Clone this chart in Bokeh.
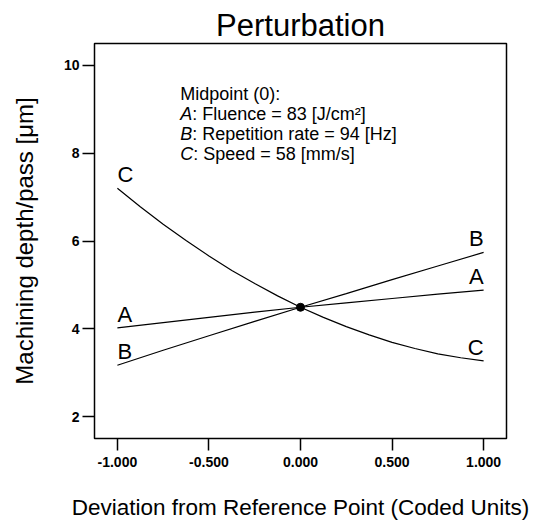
from bokeh.plotting import figure
from bokeh.models import FixedTicker, NumeralTickFormatter, Label, ColumnDataSource, Range1d
from bokeh.embed import file_html
from bokeh.resources import INLINE
from bokeh.core.properties import value

# ---- data ----
deviation = [-1.0, -0.75, -0.5, -0.25, 0.0, 0.25, 0.5, 0.75, 1.0]
factor_a = [4.02, 4.14, 4.26, 4.38, 4.49, 4.59, 4.69, 4.79, 4.88]
factor_b = [3.17, 3.51, 3.84, 4.17, 4.49, 4.80, 5.12, 5.43, 5.74]
deviation_c = [-1.0, -0.875, -0.75, -0.625, -0.5, -0.375, -0.25, -0.125, 0.0,
               0.125, 0.25, 0.375, 0.5, 0.625, 0.75, 0.875, 1.0]
factor_c = [7.20, 6.78, 6.38, 6.01, 5.66, 5.33, 5.03, 4.75, 4.49,
            4.26, 4.05, 3.86, 3.69, 3.55, 3.43, 3.34, 3.27]
series_names = ["A", "B", "C"]
midpoint_x = [0.0]
midpoint_y = [4.49]
x_ticks = [-1.0, -0.5, 0.0, 0.5, 1.0]
y_ticks = [2, 4, 6, 8, 10]
note_head = "Midpoint (0):"
note_letters = ["A", "B", "C"]
note_texts = [": Fluence = 83 [J/cm\u00b2]", ": Repetition rate = 94 [Hz]", ": Speed = 58 [mm/s]"]

FONT = "Liberation Sans"

p = figure(width=539, height=524, output_backend="svg", toolbar_location=None,
           x_range=Range1d(-1.125, 1.125), y_range=Range1d(1.5, 10.5),
           min_border_left=94, min_border_right=33, min_border_top=43, min_border_bottom=86)

p.title.text = "Perturbation"
p.title.align = "center"
p.title.text_font = FONT
p.title.text_font_size = "31px"
p.title.text_font_style = "normal"
p.title.text_color = "black"
p.title.standoff = 2

p.grid.visible = False
p.outline_line_color = "black"
p.outline_line_width = 1.5
p.background_fill_color = "white"
p.border_fill_color = "white"

for ax in (p.xaxis[0], p.yaxis[0]):
    ax.axis_line_color = None
    ax.major_tick_out = 12
    ax.major_tick_in = 0
    ax.major_tick_line_color = "black"
    ax.major_tick_line_width = 1.5
    ax.minor_tick_line_color = None
    ax.major_label_text_font = FONT
    ax.major_label_text_font_style = "bold"
    ax.major_label_text_font_size = "14px"
    ax.major_label_text_color = "black"
    ax.axis_label_text_font = FONT
    ax.axis_label_text_font_style = "normal"
    ax.axis_label_text_color = "black"

p.xaxis.ticker = FixedTicker(ticks=x_ticks)
p.xaxis.formatter = NumeralTickFormatter(format="0.000")
p.xaxis.major_label_standoff = 6
p.xaxis.axis_label = "Deviation from Reference Point (Coded Units)"
p.xaxis.axis_label_text_font_size = "22.5px"
p.xaxis.axis_label_standoff = 25

p.yaxis.ticker = FixedTicker(ticks=y_ticks)
p.yaxis.major_label_standoff = 3
p.yaxis.axis_label = "Machining depth/pass [\u03bcm]"
p.yaxis.axis_label_text_font_size = "24px"
p.yaxis.axis_label_standoff = 23

p.line(deviation, factor_a, line_color="black", line_width=1.2)
p.line(deviation, factor_b, line_color="black", line_width=1.2)
p.line(deviation_c, factor_c, line_color="black", line_width=1.2)

p.scatter(midpoint_x, midpoint_y, size=8, color="black")

# end labels
series = [factor_a, factor_b, factor_c]
left_src = ColumnDataSource(dict(x=[deviation[0]] * 3, y=[s[0] for s in series], t=series_names))
right_src = ColumnDataSource(dict(x=[deviation[-1]] * 3, y=[s[-1] for s in series], t=series_names))
p.text(x="x", y="y", text="t", source=left_src, text_align="left", text_baseline="bottom",
       y_offset=-1, text_font=value(FONT), text_font_size="22px", text_color="black")
p.text(x="x", y="y", text="t", source=right_src, text_align="right", text_baseline="bottom",
       y_offset=-1, text_font=value(FONT), text_font_size="22px", text_color="black")

# annotation block
nx = -0.657
ny = 9.12
dy = 0.455
p.add_layout(Label(x=nx, y=ny, text=note_head, text_font=FONT, text_font_size="18px",
                   text_baseline="bottom", text_color="black"))
letter_w = [12, 12, 13]
for i, (l, t) in enumerate(zip(note_letters, note_texts)):
    yy = ny - dy * (i + 1)
    p.add_layout(Label(x=nx, y=yy, text=l, text_font=FONT, text_font_size="18px",
                       text_font_style="italic", text_baseline="bottom", text_color="black"))
    p.add_layout(Label(x=nx, y=yy, x_offset=letter_w[i], text=t, text_font=FONT,
                       text_font_size="18px", text_baseline="bottom", text_color="black"))

open("out.html", "w").write(file_html(p, INLINE))
